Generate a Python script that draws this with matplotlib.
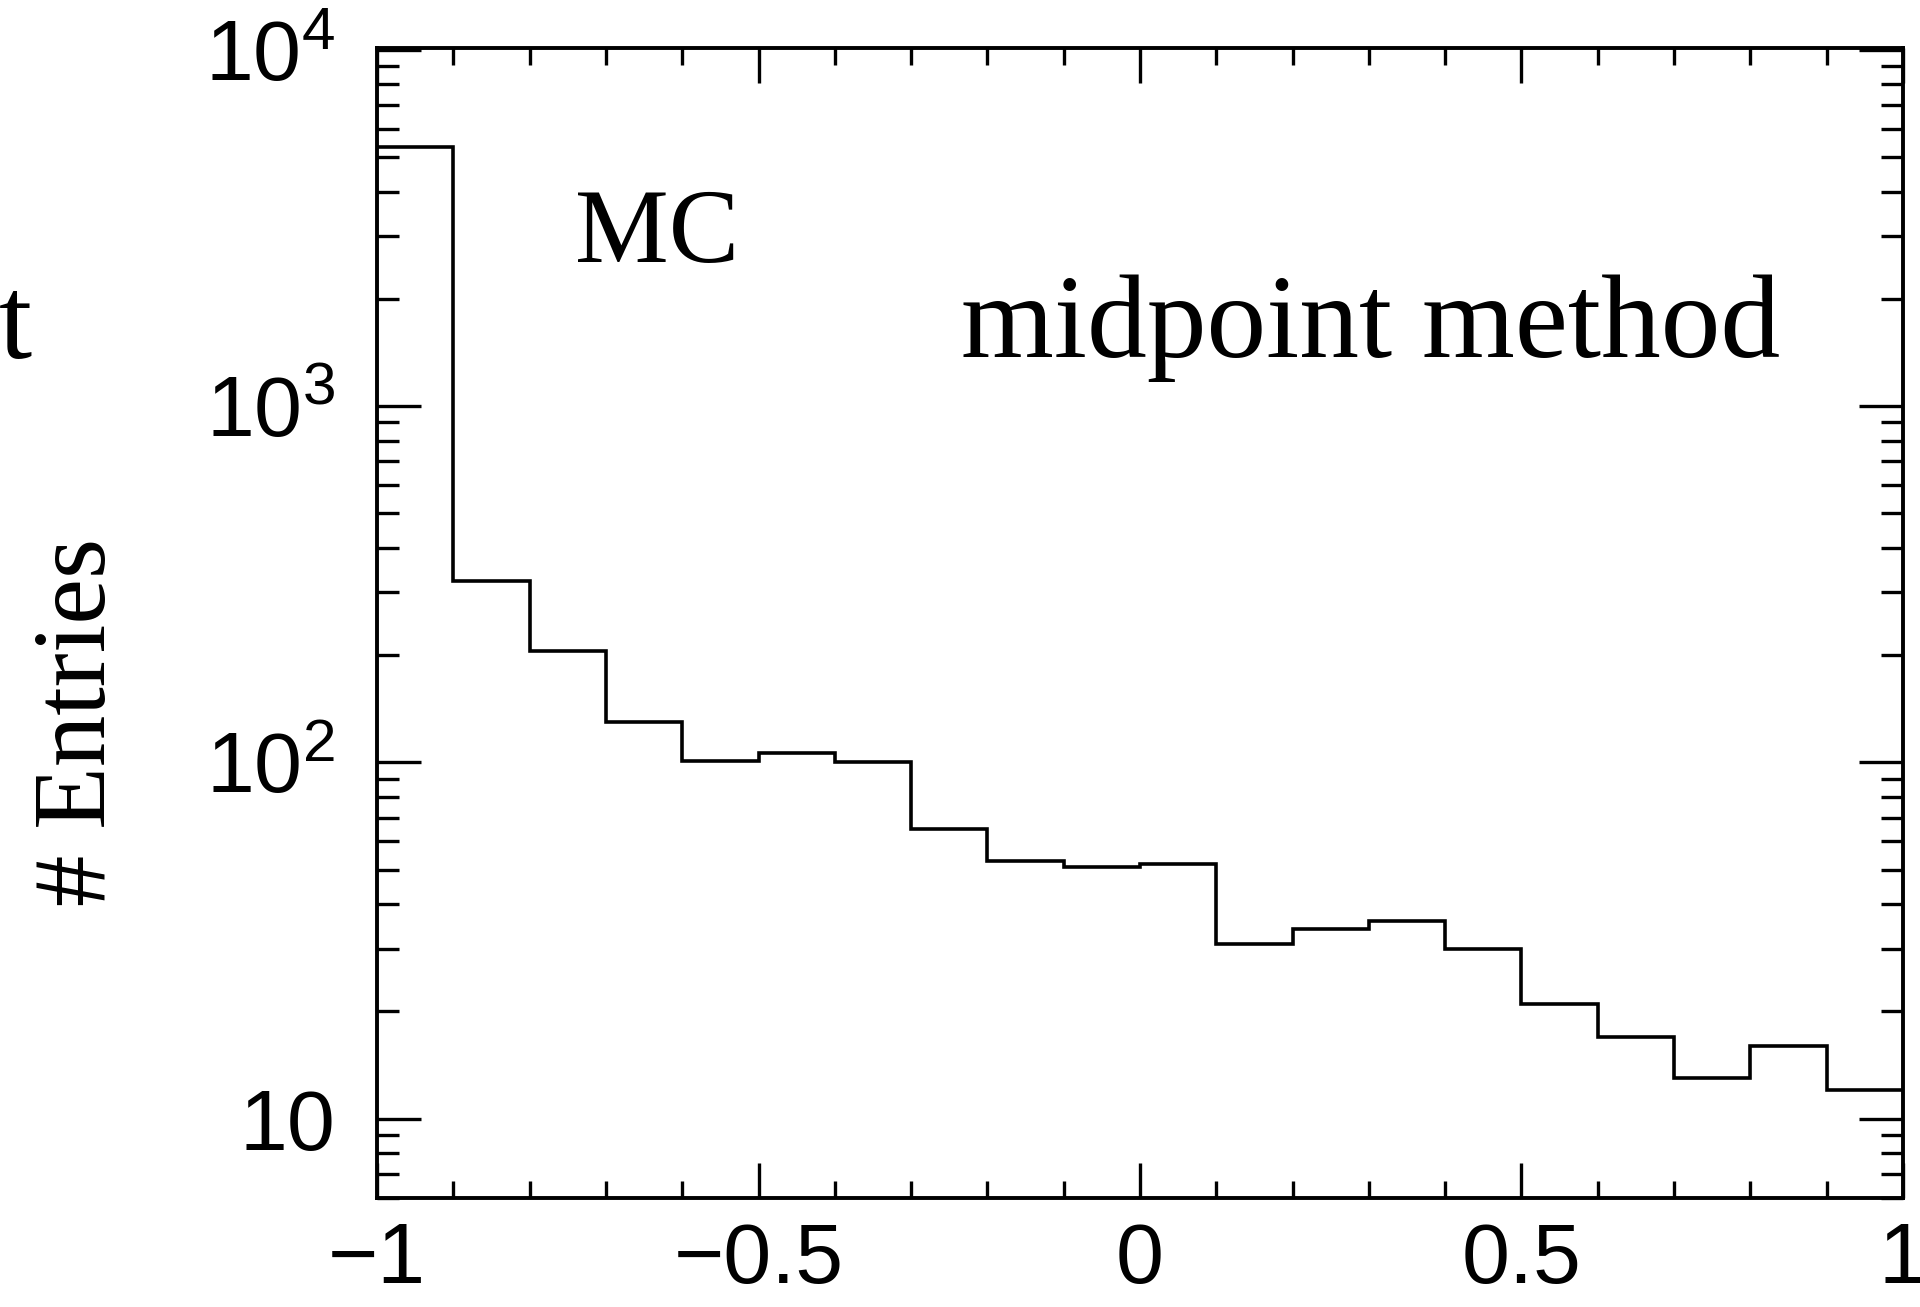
import matplotlib
matplotlib.use("Agg")
import matplotlib.pyplot as plt
import numpy as np
from matplotlib.ticker import FixedLocator, MultipleLocator, LogLocator, NullFormatter

# histogram content, 20 bins from -1 to 1
bin_edges = [-1.0, -0.9, -0.8, -0.7, -0.6, -0.5, -0.4, -0.3, -0.2, -0.1, 0.0,
             0.1, 0.2, 0.3, 0.4, 0.5, 0.6, 0.7, 0.8, 0.9, 1.0]
counts = [5330, 323, 206, 130, 101, 106, 100, 65, 53, 51, 52,
          31, 34, 36, 30, 21, 17, 13, 16, 12]

xticks = [-1, -0.5, 0, 0.5, 1]
xtick_labels = ["\u22121", "\u22120.5", "0", "0.5", "1"]
yticks = [10, 100, 1000, 10000]
ytick_labels = ["10", r"$\mathregular{10^{2}}$", r"$\mathregular{10^{3}}$", r"$\mathregular{10^{4}}$"]

plt.rcParams['font.family'] = ['Liberation Sans', 'DejaVu Sans']

fig = plt.figure(figsize=(19.2, 13.07), dpi=100)
ax = fig.add_axes([0.1964, 0.0836, 0.9911 - 0.1964, 0.9629 - 0.0836])

ax.stairs(counts, bin_edges, baseline=None, color='black', linewidth=2.6)

ax.set_yscale('log')
ax.set_xlim(-1, 1)
ax.set_ylim(6.0, 10 ** 4.004)

ax.xaxis.set_major_locator(FixedLocator(xticks))
ax.set_xticklabels(xtick_labels)
ax.xaxis.set_minor_locator(MultipleLocator(0.1))

ax.yaxis.set_major_locator(FixedLocator(yticks))
ax.set_yticklabels(ytick_labels)
ax.yaxis.set_minor_locator(LogLocator(base=10, subs=np.arange(2, 10)))
ax.yaxis.set_minor_formatter(NullFormatter())

for s in ax.spines.values():
    s.set_linewidth(2.8)

ax.tick_params(axis='both', which='both', direction='in', top=True, right=True,
               width=2.4, labelsize=62)
ax.tick_params(axis='x', which='major', length=25, pad=17)
ax.tick_params(axis='x', which='minor', length=12.5)
ax.tick_params(axis='y', which='major', length=32, pad=30)
ax.tick_params(axis='y', which='minor', length=16)

serif = ['Liberation Serif', 'DejaVu Serif']
fig.text(575 / 1920, 1 - 262 / 1307, "MC", family=serif, fontsize=76,
         ha='left', va='baseline')
fig.text(961 / 1920, 1 - 357 / 1307, "midpoint method", family=serif,
         fontsize=86, ha='left', va='baseline')
fig.text(32 / 1920, 1 - 358 / 1307, "t", family=serif, fontsize=86,
         ha='right', va='baseline')
fig.text(80 / 1920, 1 - 722 / 1307, "# Entries", family=serif, fontsize=74,
         rotation=90, ha='center', va='center')

fig.savefig("out.png", dpi=100)
